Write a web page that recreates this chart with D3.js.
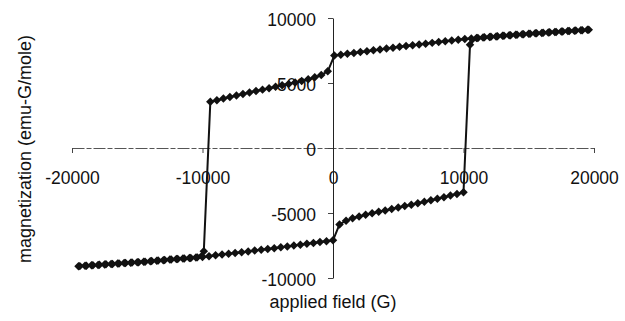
<!DOCTYPE html>
<html>
<head>
<meta charset="utf-8">
<script src="https://cdn.jsdelivr.net/npm/d3@7"></script>
<style>
  html, body { margin: 0; padding: 0; background: #fff; }
  svg { display: block; }
  text { font-family: "Liberation Sans", Arial, sans-serif; fill: #111; }
</style>
</head>
<body>
<svg id="chart" width="625" height="321"></svg>
<script>
// Field sweep from +H down to -H (G)
const downField = [
  19600, 19100, 18600, 18100, 17600, 17100, 16600, 16100, 15600, 15100,
  14600, 14100, 13600, 13100, 12600, 12100, 11600, 11100, 10600, 10100,
  9600, 9100, 8600, 8100, 7600, 7100, 6600, 6100, 5600, 5100,
  4600, 4100, 3600, 3100, 2600, 2100, 1600, 1100, 600, 100,
  -400, -900, -1400, -1900, -2400, -2900, -3400, -3900, -4400, -4900,
  -5400, -5900, -6400, -6900, -7400, -7900, -8400, -8900, -9400,
  -9900,
  -10400, -10900, -11400, -11900, -12400, -12900, -13400, -13900, -14400, -14900,
  -15400, -15900, -16400, -16900, -17400, -17900, -18400, -18900, -19400
];
// Magnetization on the downward sweep (emu-G/mole)
const downMoment = [
  9100, 9066, 9032, 8998, 8964, 8930, 8896, 8862, 8828, 8796,
  8757, 8716, 8675, 8634, 8593, 8552, 8511, 8470, 8429, 8388,
  8331, 8270, 8209, 8148, 8087, 8026, 7965, 7904, 7843, 7782,
  7716, 7649, 7582, 7515, 7448, 7381, 7314, 7247, 7180, 7113,
  5900, 5620, 5440, 5290, 5160, 5040, 4930, 4820, 4710, 4600,
  4490, 4380, 4270, 4160, 4040, 3920, 3800, 3680, 3550,
  -7950,
  -8413, -8454, -8495, -8536, -8577, -8618, -8659, -8700, -8741, -8782,
  -8815, -8848, -8882, -8916, -8950, -8984, -9018, -9052, -9086
];

// Field sweep from -H back up to +H (G)
const upField = [
  -19500, -19000, -18500, -18000, -17500, -17000, -16500, -16000, -15500, -15000,
  -14500, -14000, -13500, -13000, -12500, -12000, -11500, -11000, -10500, -10000,
  -9500, -9000, -8500, -8000, -7500, -7000, -6500, -6000, -5500, -5000,
  -4500, -4000, -3500, -3000, -2500, -2000, -1500, -1000, -500, 0,
  500, 1000, 1500, 2000, 2500, 3000, 3500, 4000, 4500, 5000,
  5500, 6000, 6500, 7000, 7500, 8000, 8500, 9000, 9500, 10000,
  10500,
  11000, 11500, 12000, 12500, 13000, 13500, 14000, 14500, 15000, 15500,
  16000, 16500, 17000, 17500, 18000, 18500, 19000, 19500
];
// Magnetization on the upward sweep (emu-G/mole)
const upMoment = [
  -9093, -9059, -9025, -8991, -8957, -8923, -8889, -8855, -8821, -8788,
  -8749, -8708, -8667, -8626, -8585, -8544, -8503, -8462, -8421, -8377,
  -8319, -8258, -8197, -8136, -8075, -8014, -7953, -7892, -7831, -7769,
  -7703, -7636, -7569, -7502, -7435, -7368, -7301, -7234, -7167, -7100,
  -5880, -5590, -5410, -5270, -5140, -5020, -4910, -4800, -4690, -4580,
  -4470, -4360, -4250, -4140, -4020, -3900, -3780, -3660, -3530, -3400,
  7950,
  8462, 8503, 8544, 8585, 8626, 8667, 8708, 8749, 8788, 8821,
  8855, 8889, 8923, 8957, 8991, 9025, 9059, 9093
];

const xTicks = [-20000, -10000, 0, 10000, 20000];
const yTicks = [-10000, -5000, 0, 5000, 10000];

const xLabel = "applied field (G)";
const yLabel = "magnetization (emu-G/mole)";

// One continuous loop: down sweep followed by the up sweep
const loop = downField.map((h, i) => ({ h, m: downMoment[i] }))
  .concat(upField.map((h, i) => ({ h, m: upMoment[i] })));

const svg = d3.select("#chart");

const x = d3.scaleLinear().domain([-20000, 20000]).range([72, 594]);
const y = d3.scaleLinear().domain([-10000, 10000]).range([278, 18]);

const fontSize = 17.5;
// Plain hyphen-minus for negative tick labels
const fmt = d => String(d);

// Horizontal axis through M = 0
const xAxis = svg.append("g")
  .attr("transform", `translate(0,${y(0)})`)
  .call(d3.axisBottom(x).tickValues(xTicks).tickFormat(fmt)
    .tickSize(5).tickSizeOuter(0).tickPadding(19));
xAxis.select(".domain").attr("stroke", "#555").attr("stroke-dasharray", "12,2,5,2");
xAxis.selectAll(".tick line").attr("stroke", "#444");
xAxis.selectAll("text").attr("font-size", fontSize)
  .attr("font-family", "Liberation Sans, Arial, sans-serif").attr("fill", "#111");

// Vertical axis through H = 0
const yAxis = svg.append("g")
  .attr("transform", `translate(${x(0)},0)`)
  .call(d3.axisLeft(y).tickValues(yTicks).tickFormat(fmt)
    .tickSize(5).tickSizeOuter(0).tickPadding(12));
yAxis.select(".domain").attr("stroke", "#222");
yAxis.selectAll(".tick line").attr("stroke", "#444");
yAxis.selectAll("text").attr("font-size", fontSize)
  .attr("font-family", "Liberation Sans, Arial, sans-serif").attr("fill", "#111")
  .attr("dy", "0.4em");

// Hysteresis loop
const line = d3.line().x(d => x(d.h)).y(d => y(d.m));
svg.append("path")
  .datum(loop)
  .attr("fill", "none")
  .attr("stroke", "#111")
  .attr("stroke-width", 2)
  .attr("stroke-linejoin", "round")
  .attr("d", line);

// Diamond markers (rotated square)
const diamond = {
  draw(ctx, size) {
    const r = Math.sqrt(size / 2);
    ctx.moveTo(0, -r);
    ctx.lineTo(r, 0);
    ctx.lineTo(0, r);
    ctx.lineTo(-r, 0);
    ctx.closePath();
  }
};
const sym = d3.symbol().type(diamond).size(36);
svg.append("g")
  .selectAll("path")
  .data(loop)
  .join("path")
  .attr("transform", d => `translate(${x(d.h)},${y(d.m)})`)
  .attr("d", sym)
  .attr("fill", "#111");

// Axis titles
svg.append("text")
  .attr("x", x(0))
  .attr("y", 308)
  .attr("text-anchor", "middle")
  .attr("font-size", 18)
  .text(xLabel);

svg.append("text")
  .attr("transform", `translate(31,${y(0) + 1}) rotate(-90)`)
  .attr("text-anchor", "middle")
  .attr("font-size", 18)
  .text(yLabel);
</script>
</body>
</html>
